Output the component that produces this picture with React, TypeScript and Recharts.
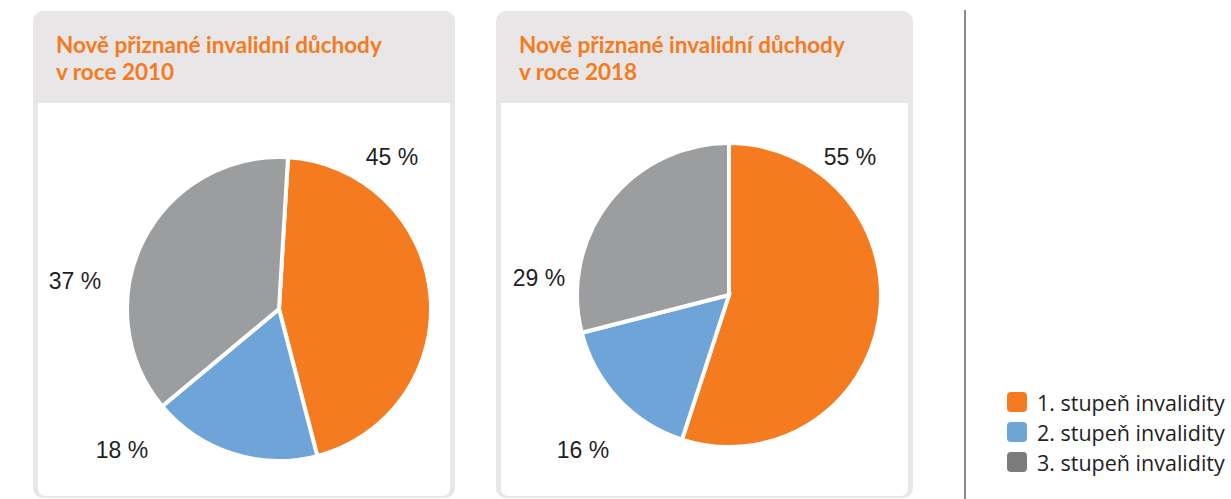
import { PieChart, Pie, Cell, Legend } from "recharts";

const categories = ["1. stupeň invalidity", "2. stupeň invalidity", "3. stupeň invalidity"];
const values2010 = [45, 18, 37];
const values2018 = [55, 16, 29];
const titles = ["Nově přiznané invalidní důchody\nv roce 2010", "Nově přiznané invalidní důchody\nv roce 2018"];

const pieColors = ["#f47b20", "#6fa4d9", "#9c9d9f"];
const legendColors = ["#f47b20", "#6fa4d9", "#7a7b7d"];

// label offsets from pie centre (text anchor middle, baseline)
const labelOffsets2010 = [
  [113, -144],
  [-157, 149],
  [-204, -20],
];
const labelOffsets2018 = [
  [121, -130],
  [-146, 163],
  [-190, -9],
];

const toData = (vals: number[]) => categories.map((name, i) => ({ name, value: vals[i] }));

const makeLabel = (offsets: number[][]) => (props: any) => {
  const { cx, cy, index, value } = props;
  const [dx, dy] = offsets[index];
  return (
    <text
      x={cx + dx}
      y={cy + dy}
      textAnchor="middle"
      fill="#1f1f1f"
      fontSize={23}
      fontFamily="'Liberation Sans', Arial, sans-serif"
    >
      {`${value} %`}
    </text>
  );
};

const panels = [
  { left: 33, width: 422 },
  { left: 496, width: 417 },
];

function LegendBox() {
  return (
    <div style={{ fontFamily: "'Open Sans', sans-serif", fontSize: 21.5, color: "#1f1f1f" }}>
      {categories.map((c, i) => (
        <div key={c} style={{ display: "flex", alignItems: "center", height: 30, whiteSpace: "nowrap" }}>
          <span
            style={{
              display: "inline-block",
              width: 20,
              height: 20,
              borderRadius: 4,
              background: legendColors[i],
              marginRight: 10,
            }}
          />
          {c}
        </div>
      ))}
    </div>
  );
}

export default function App() {
  return (
    <div style={{ position: "absolute", left: 0, top: 0, width: 1231, height: 499, background: "#fff", overflow: "hidden" }}>
      {panels.map((p, i) => (
        <div
          key={i}
          style={{
            position: "absolute",
            left: p.left,
            top: 11,
            width: p.width,
            height: 487,
            background: "#e8e6e7",
            borderRadius: 10,
          }}
        >
          <div
            style={{
              position: "absolute",
              left: 23,
              top: 20,
              fontFamily: "Lato, sans-serif",
              fontWeight: 700,
              fontSize: 22.5,
              lineHeight: "27px",
              color: "#f47b20",
              whiteSpace: "pre",
            }}
          >
            {titles[i]}
          </div>
          <div
            style={{
              position: "absolute",
              left: 5,
              right: 5,
              top: 92,
              bottom: 2,
              background: "#fff",
              borderRadius: "0 0 7px 7px",
            }}
          />
        </div>
      ))}
      <div style={{ position: "absolute", left: 964, top: 10, width: 2, height: 489, background: "#8c8c8c" }} />
      <div style={{ position: "absolute", left: 0, top: 0 }}>
        <PieChart width={1231} height={499}>
          <Pie
            data={toData(values2010)}
            dataKey="value"
            cx={274}
            cy={304}
            outerRadius={152}
            startAngle={86.6}
            endAngle={86.6 - 360}
            stroke="#fff"
            strokeWidth={4}
            labelLine={false}
            label={makeLabel(labelOffsets2010)}
            isAnimationActive={false}
          >
            {values2010.map((_, i) => (
              <Cell key={`a-${i}`} fill={pieColors[i]} />
            ))}
          </Pie>
          <Pie
            data={toData(values2018)}
            dataKey="value"
            cx={724}
            cy={290}
            outerRadius={152}
            startAngle={90}
            endAngle={-270}
            stroke="#fff"
            strokeWidth={4}
            labelLine={false}
            label={makeLabel(labelOffsets2018)}
            isAnimationActive={false}
          >
            {values2018.map((_, i) => (
              <Cell key={`b-${i}`} fill={pieColors[i]} />
            ))}
          </Pie>
          <Legend
            content={() => <LegendBox />}
            wrapperStyle={{ position: "absolute", left: 1007, top: 387, width: 230 }}
          />
        </PieChart>
      </div>
    </div>
  );
}
